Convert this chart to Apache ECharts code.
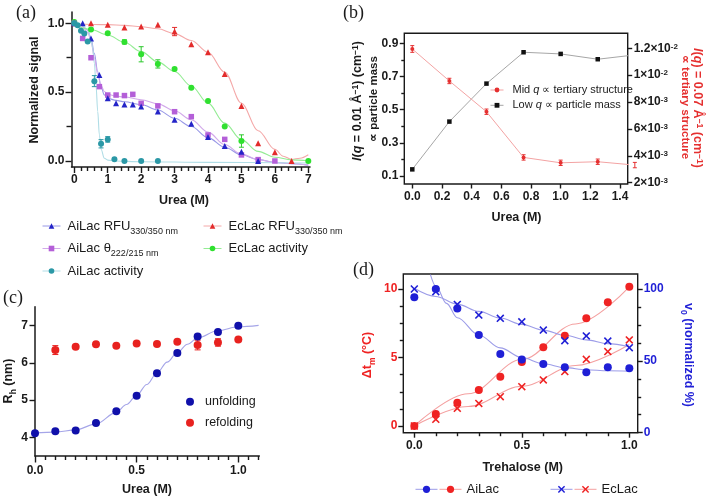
<!DOCTYPE html>
<html><head><meta charset="utf-8">
<script src="https://cdn.jsdelivr.net/npm/echarts@6/dist/echarts.min.js"></script>
<style>html,body{margin:0;padding:0;background:#fff}#c{width:709px;height:496px}</style>
</head><body><div id="c"></div>
<script>
// ---------- Panel (a): urea denaturation ----------
const aAiRfuX = [0,0.25,0.5,0.75,1,1.25,1.5,1.75,2,2.5,3,3.5,4,4.5,5,5.5];
const aAiRfuY = [1.0,1.0,0.89,0.625,0.455,0.42,0.41,0.41,0.395,0.36,0.30,0.27,0.175,0.108,0.068,0.0];
const aAiCdX = [0,0.25,0.5,0.75,1,1.25,1.5,1.75,2,2.5,3,3.5,4,4.5,5,5.5,6];
const aAiCdY = [1.0,0.89,0.75,0.54,0.479,0.479,0.475,0.484,0.419,0.40,0.358,0.322,0.189,0.157,0.044,0.01,0.0];
const aAiActX = [0,0.1,0.2,0.3,0.4,0.6,0.8,1.0,1.2,1.5,2,2.5];
const aAiActY = [1.0,0.985,0.945,0.925,0.868,0.58,0.125,0.157,0.012,0.0,0.0,0.0];
const aEcRfuX = [0,0.5,1,1.5,2,2.5,3,3.5,4,4.5,5,5.5,6,6.5];
const aEcRfuY = [1.0,1.0,0.99,0.97,0.976,0.99,0.94,0.847,0.789,0.632,0.40,0.128,0.063,0.0];
const aEcActX = [0,0.5,1,1.5,2,2.5,3,3.5,4,4.5,5,7];
const aEcActY = [1.01,0.955,0.927,0.865,0.775,0.705,0.668,0.532,0.436,0.25,0.145,0.0];
// error bars (x, centre, half width)
const aAiActErrX = [0.6,0.8,1.0], aAiActErrY = [0.58,0.125,0.157], aAiActErrH = [0.04,0.03,0.02];
const aEcActErrX = [1.5,2.0,2.5,5.0], aEcActErrY = [0.865,0.775,0.705,0.145], aEcActErrH = [0.015,0.055,0.03,0.045];
const aEcRfuErrX = [3.0], aEcRfuErrY = [0.94], aEcRfuErrH = [0.03];
// fitted curves
const aFitX = [0,0.2,0.4,0.5,0.6,0.7,0.8,0.9,1.0,1.25,1.5,2,2.5,3,3.5,4,4.5,5,5.5,6,6.5,7];
const aAiRfuFitY = [1.0,0.99,0.95,0.89,0.78,0.65,0.54,0.48,0.455,0.44,0.43,0.41,0.37,0.31,0.25,0.17,0.10,0.045,0.01,-0.01,-0.02,-0.03];
const aAiCdFitY = [1.0,0.985,0.935,0.87,0.75,0.63,0.55,0.505,0.485,0.47,0.465,0.445,0.415,0.365,0.30,0.21,0.12,0.05,0.01,-0.01,-0.02,-0.03];
const aAiActFitX = [0,0.2,0.4,0.5,0.55,0.6,0.65,0.7,0.75,0.8,0.9,1.0,1.2,2,4,7];
const aAiActFitY = [1.0,0.99,0.955,0.89,0.82,0.71,0.55,0.36,0.19,0.085,0.02,0.006,0.0,-0.005,-0.01,-0.015];
const aEcActFitX = [0,0.5,1,1.5,2,2.5,3,3.5,4,4.5,5,5.5,6,6.5,7];
const aEcActFitY = [0.985,0.955,0.915,0.862,0.794,0.72,0.65,0.545,0.42,0.275,0.155,0.07,0.027,0.008,0.002];
const aEcRfuFitX = [0,1,1.5,2,2.5,3,3.5,4,4.5,5,5.5,6,6.25,6.5,6.75,7];
const aEcRfuFitY = [0.995,0.99,0.985,0.975,0.96,0.925,0.875,0.79,0.645,0.42,0.22,0.085,0.035,0.012,0.02,0.045];
// axis ticks
const aXTicks = [0,1,2,3,4,5,6,7];
const aXMinor = [0.2,0.4,0.6,0.8,1.2,1.4,1.6,1.8,2.2,2.4,2.6,2.8,3.2,3.4,3.6,3.8,4.2,4.4,4.6,4.8,5.2,5.4,5.6,5.8,6.2,6.4,6.6,6.8];
const aYTicks = [0,0.5,1.0];
const aYMinor = [0.25,0.75];

// ---------- Panel (b): SAXS ----------
const bUrea = [0,0.25,0.5,0.75,1.0,1.25,1.5];
const bLowQ = [0.14,0.428,0.657,0.846,0.836,0.804,0.83];
const bMidQ = [0.01195,0.00957,0.00728,0.00388,0.00348,0.00356,0.00331];
const bMidErr = [0.00025,0.0002,0.0002,0.0002,0.0002,0.0002,0.0002];
const bXTicks = [0,0.2,0.4,0.6,0.8,1.0,1.2,1.4];
const bLeftTicks = [0.1,0.3,0.5,0.7,0.9];
const bLeftMinor = [0.2,0.4,0.6,0.8];
const bRightTicks = [0.002,0.004,0.006,0.008,0.010,0.012];
const bRightTickLabels = [['2×10','-3'],['4×10','-3'],['6×10','-3'],['8×10','-3'],['1×10','-2'],['1.2×10','-2']];

// ---------- Panel (c): DLS ----------
const cUreaUnf = [0,0.1,0.2,0.3,0.4,0.5,0.6,0.7,0.8,0.9,1.0];
const cUnfold = [4.11,4.16,4.18,4.385,4.70,5.12,5.72,6.265,6.71,6.83,7.0];
const cUreaRef = [0.1,0.2,0.3,0.4,0.5,0.6,0.7,0.8,0.9,1.0];
const cRefold = [6.345,6.435,6.50,6.46,6.52,6.505,6.57,6.48,6.55,6.63];
const cRefErrX = [0.1,0.3,0.8,0.9], cRefErrY = [6.345,6.50,6.48,6.55], cRefErrH = [0.12,0.05,0.13,0.1];
const cFitX = [0,0.1,0.2,0.3,0.4,0.45,0.5,0.55,0.6,0.65,0.7,0.75,0.8,0.9,1.0,1.1];
const cFitY = [4.12,4.14,4.2,4.36,4.67,4.88,5.13,5.42,5.73,6.02,6.28,6.5,6.67,6.87,6.97,7.01];
const cXTicks = [0,0.5,1.0];
const cXMinor = [0.05,0.1,0.15,0.2,0.25,0.3,0.35,0.4,0.45,0.55,0.6,0.65,0.7,0.75,0.8,0.85,0.9,0.95,1.05,1.1];
const cYTicks = [4,5,6,7];

// ---------- Panel (d): trehalose ----------
const dTre = [0,0.1,0.2,0.3,0.4,0.5,0.6,0.7,0.8,0.9,1.0];
const dAiDt = [0,0.876,1.70,2.63,3.60,4.67,5.74,6.59,7.86,9.03,10.17];
const dEcDt = [0,0.49,1.29,1.65,2.14,2.87,3.36,3.97,4.87,5.43,6.28];
const dAiV0 = [94.2,100,86.5,68,54.7,51,47.8,45.5,42,45.5,44.8];
const dEcV0 = [100,98.1,89.3,81.9,79.6,77.2,71.4,64,67.3,63.8,59.2];
const dDtFitX = [0,0.25,0.5,0.75,1.0];
const dAiDtFit = [0.0,2.35,4.85,7.45,10.15];
const dEcDtFit = [0.0,1.42,2.9,4.42,5.95];
const dAiV0FitX = [0.075,0.1,0.15,0.2,0.3,0.4,0.5,0.6,0.7,0.8,0.9,1.0];
const dAiV0Fit = [110,102,90,80,68,59,52.3,48,45.3,43.8,43.1,42.8];
const dEcV0FitX = [0,0.1,0.2,0.3,0.4,0.5,0.6,0.7,0.8,0.9,1.0];
const dEcV0Fit = [100.5,94.8,89.5,84.4,79.8,75.4,71.4,67.8,64.6,62,59.8];
const dXTicks = [0,0.5,1.0];
const dXMinor = [0.1,0.2,0.3,0.4,0.6,0.7,0.8,0.9];
const dLeftTicks = [0,5,10];
const dLeftMinor = [1.25,2.5,3.75,6.25,7.5,8.75];
const dRightTicks = [0,50,100];
const dRightMinor = [12.5,25,37.5,62.5,75,87.5];

// ================= rendering =================
const FONT = '"Liberation Sans", Arial, Helvetica, sans-serif';
const SERIF = '"Liberation Serif", "Times New Roman", serif';
const AX = '#1a1a1a';
const zip = (xs, ys) => xs.map((x, i) => [x, ys[i]]);
const XSYM = 'path://M0,1.4 L1.4,0 L5,3.6 L8.6,0 L10,1.4 L6.4,5 L10,8.6 L8.6,10 L5,6.4 L1.4,10 L0,8.6 L3.6,5 Z';

function lbl(extra) { return Object.assign({fontFamily: FONT, fontWeight: 'bold', fontSize: 12, color: '#1a1a1a'}, extra || {}); }
// one value axis; ticks and labels placed at the listed tick values
function ax(g, min, max, pos, o) {
  o = o || {};
  return {type: 'value', gridIndex: g, min, max, position: pos, show: true,
    axisLine: {show: !!o.line, onZero: false, lineStyle: {color: AX, width: 1.5}},
    axisTick: o.ticks ? {show: true, customValues: o.ticks, length: o.len || 5, lineStyle: {color: AX, width: 1.4}} : {show: false},
    axisLabel: o.labels ? lbl(Object.assign({show: true, customValues: o.labels, margin: o.margin || 6, formatter: o.fmt,
      showMinLabel: true, showMaxLabel: true}, o.label || {})) : {show: false},
    splitLine: {show: false}};
}
function fit(name, xi, yi, xs, ys, lineColor, dotColor, symbol) {
  return {type: 'line', name, xAxisIndex: xi, yAxisIndex: yi, data: zip(xs, ys), smooth: 0.35, smoothMonotone: 'x',
    showSymbol: false, symbol, symbolSize: 6, lineStyle: {color: lineColor, width: 1.1}, itemStyle: {color: dotColor},
    z: 2, clip: false, silent: true};
}
function pts(name, xi, yi, xs, ys, color, symbol, size) {
  return {type: 'scatter', name, xAxisIndex: xi, yAxisIndex: yi, data: zip(xs, ys), symbol, symbolSize: size,
    itemStyle: {color, opacity: 1}, z: 4, clip: false, silent: true};
}
function errs(name, xi, yi, xs, mid, half, color, cap) {
  return {type: 'custom', name, xAxisIndex: xi, yAxisIndex: yi, silent: true, z: 3, clip: false,
    data: xs.map((x, i) => [x, mid[i] - half[i], mid[i] + half[i]]), encode: {x: 0, y: [1, 2]},
    renderItem: (p, api) => {
      const a = api.coord([api.value(0), api.value(1)]), b = api.coord([api.value(0), api.value(2)]);
      const st = {stroke: color, lineWidth: 1};
      return {type: 'group', children: [
        {type: 'line', shape: {x1: a[0], y1: a[1], x2: b[0], y2: b[1]}, style: st},
        {type: 'line', shape: {x1: a[0] - cap, y1: a[1], x2: a[0] + cap, y2: a[1]}, style: st},
        {type: 'line', shape: {x1: b[0] - cap, y1: b[1], x2: b[0] + cap, y2: b[1]}, style: st}]};
    }};
}
function txt(x, y, text, o) {
  o = o || {};
  return {type: 'text', x, y, rotation: o.rot || 0, silent: true, z: 10,
    style: {text, fill: o.color || '#1a1a1a', font: o.font || ('bold 12px ' + FONT),
      align: o.align || 'center', verticalAlign: o.valign || 'middle', rich: o.rich}};
}
function richSet(size, color) {
  return {
    b: {fontFamily: FONT, fontWeight: 'bold', fontSize: size, fill: color},
    bi: {fontFamily: FONT, fontWeight: 'bold', fontStyle: 'italic', fontSize: size, fill: color},
    sp: {fontFamily: FONT, fontWeight: 'bold', fontSize: size * 0.68, fill: color, verticalAlign: 'top'},
    sb: {fontFamily: FONT, fontWeight: 'bold', fontSize: size * 0.68, fill: color, verticalAlign: 'bottom', padding: [0, 0, -3, 0]}
  };
}

const C = {
  aiRfu: '#2424c8', aiRfuL: '#9898e6', aiCd: '#b45fd8', aiCdL: '#d2aaea', aiAct: '#2b98a6', aiActL: '#b0dde6',
  ecRfu: '#e32b2b', ecRfuL: '#f4a8a8', ecAct: '#2fe02f', ecActL: '#94ec94',
  bRed: '#e53030', bRedL: '#f3a3a3', bBlk: '#111111', bBlkL: '#a6a6a6',
  cBlue: '#1010aa', cRed: '#e8221f', cFit: '#a5a5e8',
  dRed: '#ef2323', dRedL: '#f4a0a0', dBlue: '#1f1fd6', dBlueL: '#9c9ce8'
};

// one grid per panel, spanning the drawn frame
const grids = [
  {left: 71.5, top: 12, width: 238.5, height: 155},
  {left: 404.3, top: 33.3, width: 223.4, height: 150.7, show: true, borderColor: AX, borderWidth: 1.4, backgroundColor: 'transparent'},
  {left: 35, top: 306.7, width: 224.3, height: 149.3},
  {left: 403.3, top: 274, width: 234.4, height: 158.7, show: true, borderColor: AX, borderWidth: 1.4, backgroundColor: 'transparent'}
].map(g => Object.assign({outerBoundsMode: 'none', containLabel: false}, g));

// axis ranges = frame extents of each panel
const xAxes = [
  ax(0, -0.0838, 7.051, 'bottom', {line: true, ticks: aXTicks, len: 6, labels: aXTicks, margin: 7, fmt: v => String(Math.round(v))}), //0 a
  ax(0, -0.0838, 7.051, 'bottom', {ticks: aXMinor, len: 4}),                                                             //1 a minor
  ax(1, -0.0539, 1.4519, 'bottom', {ticks: bXTicks, len: 4.5, labels: bXTicks, margin: 7, fmt: v => v.toFixed(1)}),     //2 b
  ax(2, 0, 1.1033, 'bottom', {line: true, ticks: cXTicks, len: 6.5, labels: cXTicks, margin: 9, fmt: v => v.toFixed(1)}),//3 c
  ax(2, 0, 1.1033, 'bottom', {ticks: cXMinor, len: 4}),                                                                  //4 c minor
  ax(3, -0.0512, 1.039, 'bottom', {ticks: dXTicks, len: 5, labels: dXTicks, margin: 7, fmt: v => v.toFixed(1)}),        //5 d
  ax(3, -0.0512, 1.039, 'bottom', {ticks: dXMinor, len: 3.5})                                                            //6 d minor
];
const yAxes = [
  ax(0, -0.0436, 1.082, 'left', {line: true, ticks: aYTicks, len: 6, labels: aYTicks, margin: 7, fmt: v => v.toFixed(1)}), //0 a
  ax(0, -0.0436, 1.082, 'left', {ticks: aYMinor, len: 5}),                                                               //1 a minor
  ax(1, 0.0518, 0.9603, 'left', {ticks: bLeftTicks, len: 4.5, labels: bLeftTicks, margin: 6, fmt: v => v.toFixed(1)}),   //2 b left
  ax(1, 0.0518, 0.9603, 'left', {ticks: bLeftMinor, len: 3}),                                                            //3 b left minor
  ax(1, 0.001903, 0.013116, 'right', {ticks: bRightTicks, len: 4.5, labels: bRightTicks, margin: 6,
    fmt: v => { const i = Math.round(v * 500) - 1; const k = bRightTickLabels[i]; return k ? '{m|' + k[0] + '}{p|' + k[1] + '}' : ''; },
    label: {rich: {m: lbl({fontSize: 12}), p: lbl({fontSize: 8, verticalAlign: 'top'})}}}),                               //4 b right
  ax(2, 3.497, 7.511, 'left', {line: true, ticks: cYTicks, len: 5.5, labels: cYTicks, margin: 7, fmt: v => String(Math.round(v))}), //5 c
  ax(3, -0.489, 11.095, 'left', {ticks: dLeftTicks, len: 5, labels: dLeftTicks, margin: 6, fmt: v => String(Math.round(v)), label: {color: C.dRed}}), //6 d left
  ax(3, -0.489, 11.095, 'left', {ticks: dLeftMinor, len: 3.5}),                                                          //7 d left minor
  ax(3, 0, 110.44, 'right', {ticks: dRightTicks, len: 5, labels: dRightTicks, margin: 6, fmt: v => String(Math.round(v)), label: {color: C.dBlue}}), //8 d right
  ax(3, 0, 110.44, 'right', {ticks: dRightMinor, len: 3.5})                                                              //9 d right minor
];

const series = [
  // (a)
  fit('AiLac RFU', 0, 0, aFitX, aAiRfuFitY, C.aiRfuL, C.aiRfu, 'triangle'),
  fit('AiLac θ', 0, 0, aFitX, aAiCdFitY, C.aiCdL, C.aiCd, 'rect'),
  fit('AiLac activity', 0, 0, aAiActFitX, aAiActFitY, C.aiActL, C.aiAct, 'circle'),
  fit('EcLac RFU', 0, 0, aEcRfuFitX, aEcRfuFitY, C.ecRfuL, C.ecRfu, 'triangle'),
  fit('EcLac activity', 0, 0, aEcActFitX, aEcActFitY, C.ecActL, C.ecAct, 'circle'),
  errs('e1', 0, 0, aAiActErrX, aAiActErrY, aAiActErrH, C.aiAct, 2.5),
  errs('e2', 0, 0, aEcActErrX, aEcActErrY, aEcActErrH, '#2cc82c', 2.5),
  errs('e3', 0, 0, aEcRfuErrX, aEcRfuErrY, aEcRfuErrH, C.ecRfu, 2.5),
  pts('p1', 0, 0, aEcActX, aEcActY, C.ecAct, 'circle', 6),
  pts('p2', 0, 0, aEcRfuX, aEcRfuY, C.ecRfu, 'triangle', 6),
  pts('p3', 0, 0, aAiCdX, aAiCdY, C.aiCd, 'rect', 5.5),
  pts('p4', 0, 0, aAiRfuX, aAiRfuY, C.aiRfu, 'triangle', 6),
  pts('p5', 0, 0, aAiActX, aAiActY, C.aiAct, 'circle', 6),
  // (b)
  {type: 'line', name: 'Low q', xAxisIndex: 2, yAxisIndex: 2, data: zip(bUrea, bLowQ), symbol: 'rect', symbolSize: 4.5,
    itemStyle: {color: C.bBlk}, lineStyle: {color: C.bBlkL, width: 1}, z: 3, silent: true},
  errs('be', 2, 4, bUrea, bMidQ, bMidErr, C.bRed, 2),
  {type: 'line', name: 'Mid q', xAxisIndex: 2, yAxisIndex: 4, data: zip(bUrea, bMidQ), symbol: 'circle', symbolSize: 4,
    itemStyle: {color: C.bRed}, lineStyle: {color: C.bRedL, width: 1}, z: 3, silent: true},
  // (c)
  {type: 'line', name: 'cfit', xAxisIndex: 3, yAxisIndex: 5, data: zip(cFitX, cFitY), smooth: 0.35, smoothMonotone: 'x',
    showSymbol: false, lineStyle: {color: C.cFit, width: 1.1}, z: 2, clip: false, silent: true},
  errs('ce', 3, 5, cRefErrX, cRefErrY, cRefErrH, C.cRed, 3),
  pts('unfolding', 3, 5, cUreaUnf, cUnfold, C.cBlue, 'circle', 8),
  pts('refolding', 3, 5, cUreaRef, cRefold, C.cRed, 'circle', 8),
  // (d)
  fit('AiLac Δtm', 5, 6, dDtFitX, dAiDtFit, C.dRedL, C.dRed, 'circle'),
  fit('EcLac Δtm', 5, 6, dDtFitX, dEcDtFit, C.dRedL, C.dRed, XSYM),
  fit('AiLac v0', 5, 8, dAiV0FitX, dAiV0Fit, C.dBlueL, C.dBlue, 'circle'),
  fit('EcLac v0', 5, 8, dEcV0FitX, dEcV0Fit, C.dBlueL, C.dBlue, XSYM),
  pts('d1', 5, 6, dTre, dAiDt, C.dRed, 'circle', 8),
  pts('d2', 5, 6, dTre, dEcDt, C.dRed, XSYM, 8),
  pts('d3', 5, 8, dTre, dAiV0, C.dBlue, 'circle', 8),
  pts('d4', 5, 8, dTre, dEcV0, C.dBlue, XSYM, 8)
];

const aLabelRich = {
  n: {fontFamily: FONT, fontSize: 13, color: '#1a1a1a'},
  s: {fontFamily: FONT, fontSize: 9, color: '#1a1a1a', verticalAlign: 'bottom', padding: [0, 0, -2, 0]}
};
const aLegendText = {
  'AiLac RFU': '{n|AiLac RFU}{s|330/350 nm}',
  'AiLac θ': '{n|AiLac θ}{s|222/215 nm}',
  'AiLac activity': '{n|AiLac activity}',
  'EcLac RFU': '{n|EcLac RFU}{s|330/350 nm}',
  'EcLac activity': '{n|EcLac activity}'
};
function legItem(name, dot, line) { return {name, itemStyle: {color: dot, borderWidth: 0}, lineStyle: {color: line, width: 1, opacity: 1}}; }
const legendBase = {padding: 0, selectedMode: false, textStyle: {fontFamily: FONT, color: '#1a1a1a'}};
const aLegendStyle = {fontFamily: FONT, fontSize: 13, color: '#1a1a1a', lineHeight: 16, padding: [0, 0, 0, 2], rich: aLabelRich};
const legends = [
  Object.assign({}, legendBase, {orient: 'vertical', left: 42, top: 218, itemGap: 4.5, itemWidth: 18, itemHeight: 7,
    data: [legItem('AiLac RFU', C.aiRfu, C.aiRfuL), legItem('AiLac θ', C.aiCd, C.aiCdL), legItem('AiLac activity', C.aiAct, C.aiActL)],
    formatter: n => aLegendText[n], textStyle: aLegendStyle}),
  Object.assign({}, legendBase, {orient: 'vertical', left: 203, top: 218, itemGap: 4.5, itemWidth: 18, itemHeight: 7,
    data: [legItem('EcLac RFU', C.ecRfu, C.ecRfuL), legItem('EcLac activity', C.ecAct, C.ecActL)],
    formatter: n => aLegendText[n], textStyle: aLegendStyle}),
  Object.assign({}, legendBase, {orient: 'vertical', left: 490, top: 83.5, itemGap: 2.3, itemWidth: 13, itemHeight: 6,
    data: [legItem('Mid q', C.bRed, C.bRedL), legItem('Low q', C.bBlk, C.bBlkL)],
    formatter: n => n === 'Mid q' ? '{n|Mid }{i|q}{n| ∝ tertiary structure}' : '{n|Low }{i|q}{n| ∝ particle mass}',
    textStyle: {fontFamily: FONT, fontSize: 11, lineHeight: 13, color: '#1a1a1a', padding: [0, 0, 0, 4], rich: {
      n: {fontFamily: FONT, fontSize: 11, color: '#1a1a1a'}, i: {fontFamily: FONT, fontSize: 11, fontStyle: 'italic', color: '#1a1a1a'}}}}),
  Object.assign({}, legendBase, {orient: 'vertical', left: 186, top: 394.2, itemGap: 6, itemWidth: 20, itemHeight: 8, icon: 'circle',
    data: ['unfolding', 'refolding'], textStyle: {fontFamily: FONT, fontSize: 12.5, lineHeight: 15, color: '#1a1a1a'}}),
  Object.assign({}, legendBase, {left: 415, top: 484.8, itemWidth: 22, itemHeight: 9,
    data: [legItem('AiLac v0', C.dBlue, C.dBlueL)], formatter: () => ''}),
  Object.assign({}, legendBase, {left: 439, top: 481.8, itemWidth: 22, itemHeight: 9,
    data: [legItem('AiLac Δtm', C.dRed, C.dRedL)], formatter: () => 'AiLac', textStyle: {fontFamily: FONT, fontSize: 13, lineHeight: 15, color: '#1a1a1a'}}),
  Object.assign({}, legendBase, {left: 550, top: 484.8, itemWidth: 22, itemHeight: 9,
    data: [legItem('EcLac v0', C.dBlue, C.dBlueL)], formatter: () => ''}),
  Object.assign({}, legendBase, {left: 574, top: 481.8, itemWidth: 22, itemHeight: 9,
    data: [legItem('EcLac Δtm', C.dRed, C.dRedL)], formatter: () => 'EcLac', textStyle: {fontFamily: FONT, fontSize: 13, lineHeight: 15, color: '#1a1a1a'}})
];

const R90 = Math.PI / 2;
const graphics = [
  txt(16, 4, '(a)', {font: '18px ' + SERIF, align: 'left', valign: 'top'}),
  txt(343, 4, '(b)', {font: '18px ' + SERIF, align: 'left', valign: 'top'}),
  txt(3, 289, '(c)', {font: '18px ' + SERIF, align: 'left', valign: 'top'}),
  txt(353, 261, '(d)', {font: '18px ' + SERIF, align: 'left', valign: 'top'}),
  txt(35, 90, 'Normalized signal', {rot: R90, font: 'bold 12.5px ' + FONT}),
  txt(184, 201, 'Urea (M)', {font: 'bold 12.5px ' + FONT}),
  txt(358, 101, '{bi|I}{b|(}{bi|q}{b| = 0.01 Å}{sp|−1}{b|) (cm}{sp|−1}{b|)}', {rot: R90, rich: richSet(12.5, '#1a1a1a')}),
  txt(374, 99, '∝ particle mass', {rot: R90, font: 'bold 11.5px ' + FONT}),
  txt(697, 108, '{bi|I}{b|(}{bi|q}{b|) = 0.07 Å}{sp|−1}{b| (cm}{sp|−1}{b|)}', {rot: -R90, rich: richSet(12.5, C.bRed)}),
  txt(685, 107, '∝ tertiary structure', {rot: -R90, color: C.bRed, font: 'bold 11.5px ' + FONT}),
  txt(516.5, 218, 'Urea (M)', {font: 'bold 12.5px ' + FONT}),
  txt(9, 381, '{b|R}{sb|h}{b| (nm)}', {rot: R90, rich: richSet(12.5, '#1a1a1a')}),
  txt(147, 490, 'Urea (M)', {font: 'bold 12.5px ' + FONT}),
  txt(368, 355, '{b|Δt}{sb|m}{b| (°C)}', {rot: R90, rich: richSet(12.5, C.dRed)}),
  txt(688, 355, '{b|v}{sb|0}{b| (normalized %)}', {rot: -R90, rich: richSet(12.5, C.dBlue)}),
  txt(522.7, 468, 'Trehalose (M)', {font: 'bold 12.5px ' + FONT})
];

const chart = echarts.init(document.getElementById('c'), null, {renderer: 'canvas'});
chart.setOption({
  animation: false, backgroundColor: '#ffffff', textStyle: {fontFamily: FONT},
  grid: grids, xAxis: xAxes, yAxis: yAxes, legend: legends, series, graphic: graphics
});
</script></body></html>
